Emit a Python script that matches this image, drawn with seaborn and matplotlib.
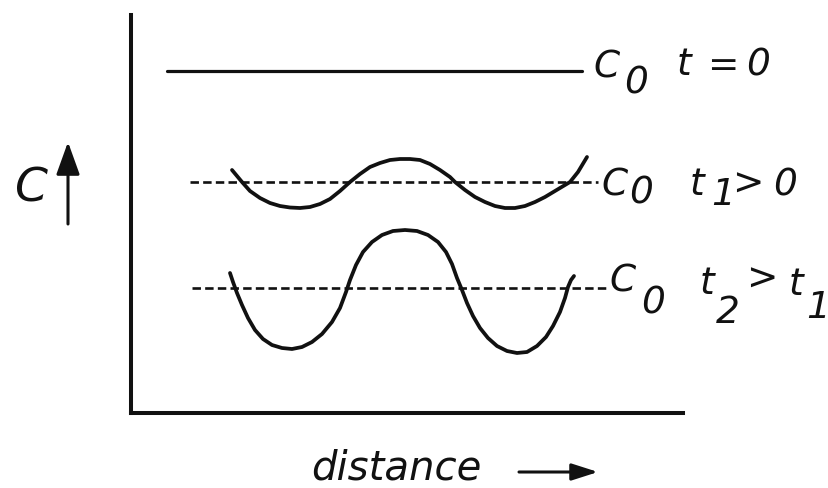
import matplotlib
matplotlib.use("Agg")
import matplotlib.pyplot as plt
import numpy as np
import pandas as pd
import seaborn as sns

# Schematic concentration profiles (arbitrary units): distance along x,
# each time step drawn about its own reference level of C0.
level_t0 = 342
level_t1 = 231
level_t2 = 125

x_t0 = [36, 451]
x_ref_t1 = [59, 467]
x_ref_t2 = [61, 476]

x_t1 = [101, 106, 111, 119, 129, 139, 149, 159, 169, 179,
        189, 199, 209, 219, 229, 239, 249, 259, 269, 279,
        289, 299, 309, 319, 324, 334, 344, 354, 364, 374,
        384, 394, 404, 414, 424, 434, 439, 447, 456]
dev_t1 = [12, 6, 0, -9, -16, -21, -24, -25.5, -26, -25,
          -22, -17, -9, 0, 8, 15, 19, 22, 23, 23,
          22, 18, 12, 5, 0, -8, -15, -20, -24, -26,
          -26, -24, -20, -15, -9, -3, 0, 10, 25]

x_t2 = [99, 102, 106, 111, 117, 124, 132, 141, 151, 161,
        171, 181, 191, 201, 209, 215, 219, 225, 232, 241,
        251, 262, 274, 286, 297, 307, 315, 321, 326, 331,
        336, 342, 349, 357, 366, 376, 386, 396, 406, 415,
        422, 429, 434, 437, 440, 443]
dev_t2 = [15, 6, -5, -17, -30, -42, -51, -57, -60, -61,
          -59, -54, -46, -34, -20, -4, 8, 23, 36, 46,
          53, 57, 58, 57, 53, 46, 36, 24, 10, -2,
          -15, -28, -40, -50, -58, -63, -65, -64, -58, -49,
          -38, -24, -10, 1, 8, 12]

W, H = 829, 488
ink = "#111111"

sns.set_theme(style="white")
plt.rcParams["font.family"] = ["DejaVu Sans"]

fig = plt.figure(figsize=(W / 100, H / 100), dpi=100)
fig.patch.set_facecolor("white")
ax = fig.add_axes([131 / W, 75 / H, 552 / W, 398 / H])
ax.set_facecolor("white")

prof_t1 = pd.DataFrame({"distance": x_t1, "c": np.array(dev_t1) + level_t1})
prof_t2 = pd.DataFrame({"distance": x_t2, "c": np.array(dev_t2) + level_t2})

# t = 0: uniform composition
sns.lineplot(x=x_t0, y=[level_t0, level_t0], ax=ax, color=ink, lw=2.3,
             estimator=None, sort=False)
# C0 reference levels
sns.lineplot(x=x_ref_t1, y=[level_t1, level_t1], ax=ax, color=ink, lw=1.9,
             estimator=None, sort=False, linestyle=(0, (3.2, 1.6)))
sns.lineplot(x=x_ref_t2, y=[level_t2, level_t2], ax=ax, color=ink, lw=1.9,
             estimator=None, sort=False, linestyle=(0, (3.2, 1.6)))
# growing composition fluctuations
sns.lineplot(data=prof_t1, x="distance", y="c", ax=ax, color=ink, lw=2.7,
             estimator=None, sort=False)
sns.lineplot(data=prof_t2, x="distance", y="c", ax=ax, color=ink, lw=2.7,
             estimator=None, sort=False)
for ln in ax.lines:
    ln.set_solid_capstyle("round")
    ln.set_solid_joinstyle("round")

ax.set_xlim(0, 552)
ax.set_ylim(0, 398)
ax.set_xticks([])
ax.set_yticks([])
ax.set_xlabel("")
ax.set_ylabel("")
sns.despine(ax=ax, top=True, right=True)
for side in ("left", "bottom"):
    ax.spines[side].set_linewidth(2.9)
    ax.spines[side].set_color(ink)
    ax.spines[side].set_capstyle("projecting")

ident = matplotlib.transforms.IdentityTransform()


def put(s, x, y, size=27):
    fig.text(x, H - y, s, transform=ident, fontsize=size, style="italic",
             ha="left", va="baseline", color=ink)


# curve labels
for s, x, y in [("C", 593, 77), ("0", 624, 93), ("t", 677, 75),
                ("=", 707, 76), ("0", 746, 75)]:
    put(s, x, y)
for s, x, y in [("C", 601, 195), ("0", 629, 204), ("t", 690, 195),
                ("1", 711, 205), (">", 732, 195), ("0", 773, 195)]:
    put(s, x, y)
for s, x, y in [("C", 609, 292), ("0", 641, 313), ("t", 700, 294),
                ("2", 716, 323), (">", 746, 290), ("t", 789, 295),
                ("1", 806, 318)]:
    put(s, x, y)

# axis captions
put("C", 14, 202, size=34)
put("distance", 311, 480, size=29)

ax.annotate("", xy=(68, H - 142), xytext=(68, H - 224),
            xycoords="figure pixels", textcoords="figure pixels",
            annotation_clip=False,
            arrowprops=dict(arrowstyle="-|>,head_length=1.0,head_width=0.36",
                            mutation_scale=20, lw=2.2, color=ink,
                            shrinkA=0, shrinkB=0))
ax.annotate("", xy=(598, H - 472), xytext=(519, H - 472),
            xycoords="figure pixels", textcoords="figure pixels",
            annotation_clip=False,
            arrowprops=dict(arrowstyle="-|>,head_length=1.0,head_width=0.32",
                            mutation_scale=16, lw=2.2, color=ink,
                            shrinkA=0, shrinkB=0))

fig.savefig("out.png", dpi=100, facecolor="white")
